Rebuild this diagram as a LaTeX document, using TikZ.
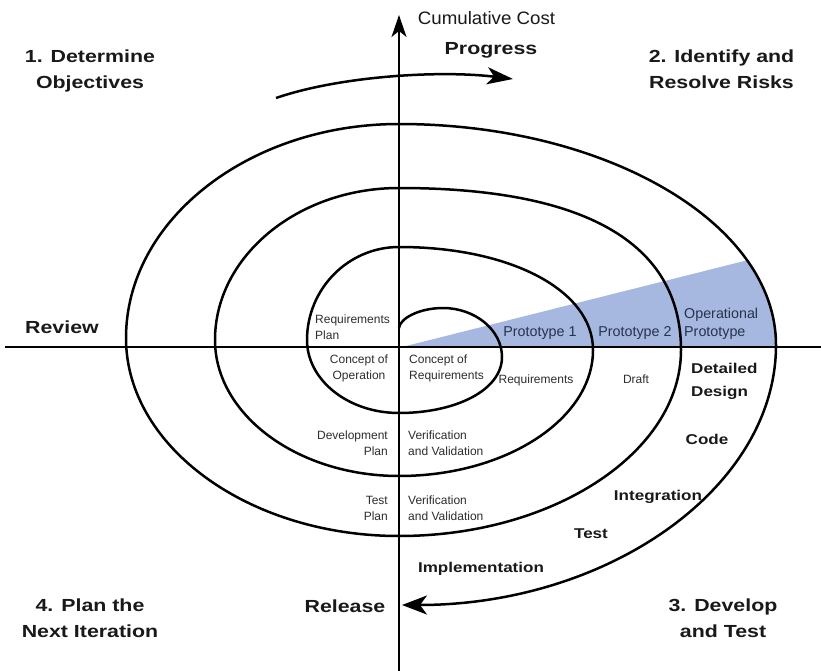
\documentclass[tikz,border=0pt]{standalone}
\usepackage{fontspec}
\setmainfont{Liberation Sans}
\newfontfamily\widefont[FakeStretch=1.22]{Liberation Sans}
\newfontfamily\midfont[FakeStretch=1.2]{Liberation Sans}
\newfontfamily\cumfont[FakeStretch=1.04]{Liberation Sans}
\usetikzlibrary{arrows.meta}
\definecolor{wedgeblue}{RGB}{166,184,223}
\definecolor{inkgray}{RGB}{25,25,25}
\definecolor{smallgray}{RGB}{45,45,45}
\definecolor{prototext}{RGB}{38,50,78}
\newcommand{\mlines}[2]{\begin{tabular}[t]{@{}#1@{}}#2\end{tabular}}
\tikzset{
  bigl/.style={font=\widefont\bfseries\fontsize{17.5}{26}\selectfont, inner sep=0pt, text=inkgray},
  midl/.style={font=\midfont\bfseries\fontsize{14.2}{23}\selectfont, inner sep=0pt, text=inkgray},
  smalll/.style={font=\fontsize{12}{16}\selectfont, inner sep=0pt, text=smallgray},
  protol/.style={font=\fontsize{14.3}{18}\selectfont, inner sep=0pt, text=prototext},
  cuml/.style={font=\cumfont\fontsize{18}{20}\selectfont, inner sep=0pt, text=inkgray},
  spiral/.style={line width=2.5pt, draw=black},
  axisline/.style={line width=2pt, draw=black},
}
\begin{document}
\begin{tikzpicture}[x=1pt,y=-1pt]
\useasboundingbox[fill=white] (0,0) rectangle (821,671);

% blue wedge
\begin{scope}
  \clip (399,124) .. controls (606,124) and (776,223) .. (776,345) -- (776,347) -- (399,347) -- cycle;
  \fill[wedgeblue] (402,347) -- (800,247) -- (800,347) -- cycle;
\end{scope}

% axes
\coordinate (hl) at (5,347);
\coordinate (hr) at (821,347);
\coordinate (vb) at (399,671);
\coordinate (vt) at (399,15);
\draw[axisline] (hl) -- (hr);
\draw[axisline, -{Stealth[length=22pt,width=15pt,inset=6pt]}] (vb) -- (vt);

% spiral
\coordinate (sp0) at (399,328);
\coordinate (spend) at (402,605);
\draw[spiral, -{Stealth[length=25pt,width=19pt,inset=7pt]}] (sp0)
  .. controls (400,318) and (420,308) .. (443,308)
  .. controls (475,308) and (502,330) .. (502,357)
  .. controls (502,390) and (456,413) .. (399,413)
  .. controls (348,413) and (307,380) .. (307,340)
  .. controls (307,289) and (348,247) .. (399,247)
  .. controls (510,247) and (593,290) .. (593,350)
  .. controls (593,419) and (506,476) .. (399,476)
  .. controls (298,476) and (215,415) .. (215,340)
  .. controls (215,256) and (298,188) .. (399,188)
  .. controls (585,188) and (681,243) .. (681,350)
  .. controls (681,452) and (554,536) .. (399,536)
  .. controls (249,536) and (126,447) .. (126,338)
  .. controls (126,220) and (249,124) .. (399,124)
  .. controls (606,124) and (776,223) .. (776,345)
  .. controls (776,488) and (608,605) .. (spend);

% progress arrow
\coordinate (pa) at (276,98);
\coordinate (pb) at (513,79);
\draw[spiral, -{Stealth[length=26pt,width=17pt,inset=7pt]}] (pa) .. controls (340,76) and (440,70) .. (pb);

% big labels
\node[cuml, anchor=base] (cum) at (486.5,25) {Cumulative Cost};
\node[bigl, anchor=base] (prog) at (491,55) {Progress};
\node[bigl, anchor=base] (q1) at (90,63) {\mlines{c}{1. Determine\\Objectives}};
\node[bigl, anchor=base] (q2) at (721.5,63) {\mlines{c}{2. Identify and\\Resolve Risks}};
\node[bigl, anchor=base] (q4) at (90,611) {\mlines{c}{4. Plan the\\Next Iteration}};
\node[bigl, anchor=base] (q3) at (723,611) {\mlines{c}{3. Develop\\and Test}};
\node[bigl, anchor=base] (review) at (62,333) {Review};
\node[bigl, anchor=base] (release) at (345,612) {Release};

% medium bold labels
\node[midl, anchor=base west] (detdes) at (691,373) {\mlines{l}{Detailed\\Design}};
\node[midl, anchor=base] (code) at (707,444) {Code};
\node[midl, anchor=base] (integ) at (658,500) {Integration};
\node[midl, anchor=base] (test) at (591,538) {Test};
\node[midl, anchor=base] (impl) at (481,572) {Implementation};

% prototype labels
\node[protol, anchor=base] (proto1) at (540,336) {Prototype 1};
\node[protol, anchor=base] (proto2) at (635,336) {Prototype 2};
\node[protol, anchor=base west] (opproto) at (684,318) {\mlines{l}{Operational\\Prototype}};

% small labels
\node[smalll, anchor=base west] (reqplan) at (315,323) {\mlines{l}{Requirements\\Plan}};
\node[smalll, anchor=base] (conop) at (359,363) {\mlines{c}{Concept of\\Operation}};
\node[smalll, anchor=base west] (conreq) at (409,363) {\mlines{l}{Concept of\\Requirements}};
\node[smalll, anchor=base] (req2) at (536,383) {Requirements};
\node[smalll, anchor=base] (draft) at (636,383) {Draft};
\node[smalll, anchor=base east] (devplan) at (388,439) {\mlines{r}{Development\\Plan}};
\node[smalll, anchor=base west] (vv1) at (408,439) {\mlines{l}{Verification\\and Validation}};
\node[smalll, anchor=base east] (testplan) at (388,504) {\mlines{r}{Test\\Plan}};
\node[smalll, anchor=base west] (vv2) at (408,504) {\mlines{l}{Verification\\and Validation}};
\end{tikzpicture}
\end{document}
